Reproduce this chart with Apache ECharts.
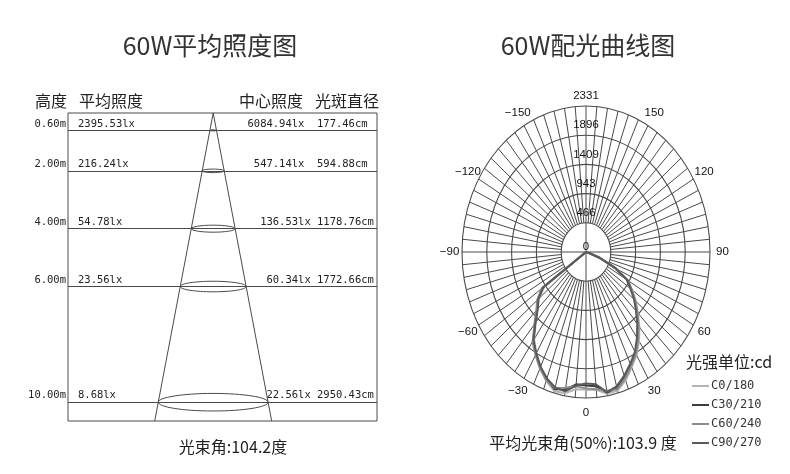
<!DOCTYPE html>
<html><head><meta charset="utf-8">
<script src="https://cdn.jsdelivr.net/npm/echarts@6/dist/echarts.min.js"></script>
<style>html,body{margin:0;padding:0;background:#fff}#c{width:790px;height:474px}</style>
</head><body><div id="c"></div>
<script>
// ---------- Left: illuminance diagram data ----------
const heights = [0.6, 2, 4, 6, 10];
const heightLabels = ['0.60m', '2.00m', '4.00m', '6.00m', '10.00m'];
const avgLux = ['2395.53lx', '216.24lx', '54.78lx', '23.56lx', '8.68lx'];
const centerLux = ['6084.94lx', '547.14lx', '136.53lx', '60.34lx', '22.56lx'];
const spotDiameterCm = [177.46, 594.88, 1178.76, 1772.66, 2950.43];
const beamAngleText = '光束角:104.2度';

// ---------- Right: light distribution curve data ----------
const MAX_CD = 2331;
const radiusTickLabels = ['466', '943', '1409', '1896', '2331'];
const angleTicks = [-150, -120, -90, -60, -30, 0, 30, 60, 90, 120, 150];
const curveNames = ['C0/180', 'C30/210', 'C60/240', 'C90/270'];
const curveAngles = [-90,-85,-80,-75,-70,-65,-60,-55,-50,-45,-40,-35,-30,-25,-20,-15,-10,-5,0,5,10,15,20,25,30,35,40,45,50,55,60,65,70,75,80,85,90];
const c0_180  = [0,0,0,0,0,0,0, 950,1150,1290,1470,1700,1870,2040,2190,2300,2290,2200,2200,2210,2300,2290,2180,2030,1900,1740,1560,1380,1220,1060,920,640,300,80,0,0,0];
const c30_210 = [0,0,0,0,0,0,0,1000,1180,1300,1490,1730,1880,2030,2160,2270,2230,2120,2130,2150,2280,2240,2120,1990,1860,1690,1520,1350,1200,1040,900,600,280,60,0,0,0];
const c60_240 = [0,0,0,0,0,0,0,1020,1200,1320,1510,1750,1900,2050,2180,2250,2200,2150,2180,2200,2250,2270,2150,2010,1880,1710,1540,1370,1210,1050,880,580,260,50,0,0,0];
const c90_270 = [0,0,0,0,0,0,0, 980,1170,1280,1480,1720,1870,2020,2150,2240,2260,2140,2100,2120,2270,2220,2100,1970,1840,1670,1500,1330,1180,1020,890,610,270,55,0,0,0];
const avgBeamText = '平均光束角(50%):103.9 度';
const unitText = '光强单位:cd';

const curves = [c0_180, c30_210, c60_240, c90_270];
const curveColors = ['#b4b4b4', '#3c3c3c', '#8c8c8c', '#5a5a5a'];

// ---------- layout ----------
const X_MIN = -39, X_MAX = 44, Y_MAX = 10.65;
const CHAR_W = 6.3;
const monoFont = '10.5px "DejaVu Sans Mono"';
const cjk = '"Noto Sans CJK SC"';
const gridColor = '#4a4a4a';

function toXY(angleDeg, cd) {
  const a = angleDeg * Math.PI / 180;
  return [cd * Math.sin(a), -cd * Math.cos(a)];
}

const lastIdx = heights.length - 1;
const coneHalf = (spotDiameterCm[lastIdx] / 200) * Y_MAX / heights[lastIdx];

const ringRadii = radiusTickLabels.map((_, k) => MAX_CD * (k + 1) / radiusTickLabels.length);
const spokeAngles = [];
for (let a = 0; a < 360; a += 5) spokeAngles.push(a);

const series = [];
// cone
series.push({
  type: 'line', xAxisIndex: 0, yAxisIndex: 0, silent: true,
  data: [[-coneHalf, Y_MAX], [0, 0], [coneHalf, Y_MAX]],
  showSymbol: false, lineStyle: { color: gridColor, width: 1 },
  markLine: {
    silent: true, symbol: ['none', 'none'], label: { show: false },
    lineStyle: { color: gridColor, width: 1, type: 'solid' },
    data: heights.map(h => ({ yAxis: h }))
  }
});
// spot ellipses
series.push({
  type: 'custom', xAxisIndex: 0, yAxisIndex: 0, silent: true,
  data: heights.map((h, i) => [spotDiameterCm[i] / 200, h]),
  renderItem: (params, api) => {
    const c = api.coord([0, api.value(1)]);
    const rx = api.size([api.value(0), 0])[0];
    return { type: 'ellipse', shape: { cx: c[0], cy: c[1], rx: rx, ry: rx * 0.16 },
      style: { fill: 'none', stroke: gridColor, lineWidth: 1 } };
  }
});
// row texts
series.push({
  type: 'custom', xAxisIndex: 0, yAxisIndex: 0, silent: true,
  data: heights.map(h => [0, h]),
  renderItem: (params, api) => {
    const i = params.dataIndex;
    const p0 = api.coord([X_MIN, api.value(1)]);
    const p1 = api.coord([X_MAX, api.value(1)]);
    const y = p0[1] - 1;
    const diam = spotDiameterCm[i].toFixed(2) + 'cm';
    const diamX = p1[0] - 60;
    const gap = diam.length >= 9 ? 1 : 2;
    const st = (text, align) => ({ text, font: monoFont, fill: '#222', align, verticalAlign: 'bottom' });
    return { type: 'group', children: [
      { type: 'text', x: p0[0] - 2, y, style: st(heightLabels[i], 'right') },
      { type: 'text', x: p0[0] + 10, y, style: st(avgLux[i], 'left') },
      { type: 'text', x: diamX - gap * CHAR_W, y, style: st(centerLux[i], 'right') },
      { type: 'text', x: diamX, y, style: st(diam, 'left') }
    ]};
  }
});
// spokes
series.push({
  type: 'custom', xAxisIndex: 1, yAxisIndex: 1, silent: true,
  data: spokeAngles.map(a => [a, 0]),
  renderItem: (params, api) => {
    const a = api.value(0);
    const full = a % 90 === 0;
    const p1 = api.coord(toXY(a, full ? 0 : ringRadii[0]));
    const p2 = api.coord(toXY(a, MAX_CD));
    return { type: 'line', shape: { x1: p1[0], y1: p1[1], x2: p2[0], y2: p2[1] },
      style: { stroke: gridColor, lineWidth: 1 } };
  }
});
// rings
series.push({
  type: 'custom', xAxisIndex: 1, yAxisIndex: 1, silent: true,
  data: ringRadii.map(r => [r, 0]),
  renderItem: (params, api) => {
    const c = api.coord([0, 0]);
    const s = api.size([api.value(0), api.value(0)]);
    return { type: 'ellipse', shape: { cx: c[0], cy: c[1], rx: s[0], ry: s[1] },
      style: { fill: 'none', stroke: gridColor, lineWidth: 1.1 } };
  }
});
// radius labels (incl. center 0)
series.push({
  type: 'custom', xAxisIndex: 1, yAxisIndex: 1, silent: true,
  data: [0].concat(ringRadii).map(r => [0, r]),
  renderItem: (params, api) => {
    const i = params.dataIndex;
    const p = api.coord([0, api.value(1)]);
    return { type: 'text', x: p[0], y: p[1] - (i === 0 ? 5 : 10),
      style: { text: i === 0 ? '0' : radiusTickLabels[i - 1], font: '11.5px "Liberation Sans"', fill: '#111', align: 'center', verticalAlign: 'middle' } };
  }
});
// angle labels
series.push({
  type: 'custom', xAxisIndex: 1, yAxisIndex: 1, silent: true,
  data: angleTicks.map(a => [a, 0]),
  renderItem: (params, api) => {
    const a = api.value(0);
    const p = api.coord(toXY(a, MAX_CD * 1.1));
    return { type: 'text', x: p[0], y: p[1],
      style: { text: (a < 0 ? '\u2212' + (-a) : String(a)), font: '11.5px "Liberation Sans"', fill: '#111', align: 'center', verticalAlign: 'middle' } };
  }
});
// curves
curves.forEach((vals, k) => {
  series.push({
    name: curveNames[k], type: 'line', xAxisIndex: 1, yAxisIndex: 1,
    data: curveAngles.map((a, j) => toXY(a, vals[j])),
    showSymbol: false, smooth: false, z: 5,
    lineStyle: { color: curveColors[k], width: 2 },
    itemStyle: { color: curveColors[k] }
  });
});

const txt = (text, x, y, font, fill, align) => ({
  type: 'text', x, y, silent: true,
  style: { text, font, fill: fill || '#222', align: align || 'center', verticalAlign: 'middle' }
});

const chart = echarts.init(document.getElementById('c'), null, { renderer: 'canvas' });
chart.setOption({
  animation: false,
  backgroundColor: '#fff',
  grid: [
    { left: 68, top: 113, width: 309, height: 308, show: true, borderColor: gridColor, borderWidth: 1, backgroundColor: 'transparent' },
    { left: 462, top: 106, width: 248, height: 292, show: false }
  ],
  xAxis: [
    { gridIndex: 0, type: 'value', min: X_MIN, max: X_MAX, show: false },
    { gridIndex: 1, type: 'value', min: -MAX_CD, max: MAX_CD, show: false }
  ],
  yAxis: [
    { gridIndex: 0, type: 'value', min: 0, max: Y_MAX, inverse: true, show: false },
    { gridIndex: 1, type: 'value', min: -MAX_CD, max: MAX_CD, show: false }
  ],
  legend: {
    data: curveNames, orient: 'vertical', left: 687, top: 375,
    icon: 'rect', itemWidth: 17, itemHeight: 2, itemGap: 7,
    selectedMode: false,
    textStyle: { fontFamily: 'DejaVu Sans Mono', fontSize: 12, color: '#333', padding: [0, 0, 0, -3] }
  },
  graphic: [
    txt('60W平均照度图', 210, 45, '25px ' + cjk, '#333'),
    txt('60W配光曲线图', 588, 45, '25px ' + cjk, '#333'),
    txt('高度', 51, 101, '16px ' + cjk),
    txt('平均照度', 111, 101, '16px ' + cjk),
    txt('中心照度', 271, 101, '16px ' + cjk),
    txt('光斑直径', 347, 101, '16px ' + cjk),
    txt(beamAngleText, 233, 447, '16px ' + cjk),
    txt(avgBeamText, 583, 443, '16px ' + cjk),
    txt(unitText, 686, 362, '16px ' + cjk, '#222', 'left')
  ],
  series: series
});
</script></body></html>
